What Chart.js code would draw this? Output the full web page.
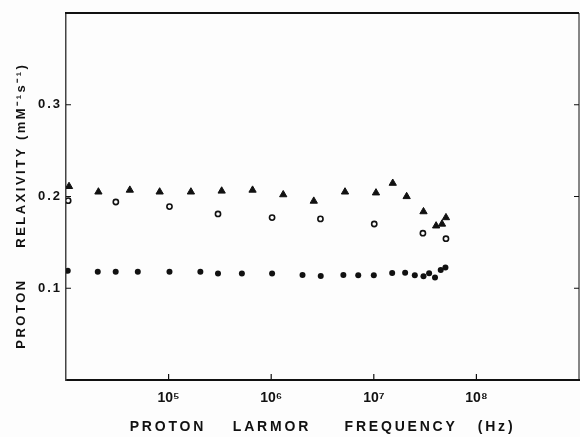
<!DOCTYPE html>
<html>
<head>
<meta charset="utf-8">
<script src="https://cdn.jsdelivr.net/npm/chart.js@4.4.1/dist/chart.umd.min.js"></script>
<style>
  html, body { margin: 0; padding: 0; background: #fdfdfd; }
  #wrap { width: 580px; height: 437px; }
</style>
</head>
<body>
<div id="wrap"><canvas id="relax"></canvas></div>
<script>
// frequencies in Hz, relaxivity in mM^-1 s^-1
var triFreq = [1.07e4, 2.07e4, 4.19e4, 8.18e4, 1.65e5, 3.29e5, 6.58e5, 1.31e6, 2.60e6, 5.24e6, 1.05e7, 1.53e7, 2.09e7, 3.05e7, 4.05e7, 4.62e7, 5.05e7];
var triRelax = [0.211, 0.205, 0.207, 0.205, 0.205, 0.206, 0.207, 0.202, 0.195, 0.205, 0.204, 0.2145, 0.200, 0.1835, 0.168, 0.170, 0.177];

var openFreq = [1.05e4, 3.06e4, 1.02e5, 3.03e5, 1.02e6, 3.02e6, 1.01e7, 3.01e7, 5.05e7];
var openRelax = [0.1955, 0.194, 0.189, 0.181, 0.177, 0.1756, 0.170, 0.160, 0.154];

var dotFreq = [1.04e4, 2.04e4, 3.05e4, 5.01e4, 1.02e5, 2.04e5, 3.03e5, 5.18e5, 1.02e6, 2.02e6, 3.04e6, 5.05e6, 7.05e6, 1.0e7, 1.51e7, 2.02e7, 2.51e7, 3.05e7, 3.46e7, 3.95e7, 4.49e7, 4.99e7];
var dotRelax = [0.119, 0.118, 0.118, 0.118, 0.118, 0.118, 0.116, 0.116, 0.116, 0.1145, 0.1134, 0.1145, 0.1142, 0.1142, 0.1167, 0.117, 0.1142, 0.1131, 0.1164, 0.1116, 0.120, 0.1225];

var xTicks = [1e5, 1e6, 1e7, 1e8];
var xTickLabels = ["10⁵", "10⁶", "10⁷", "10⁸"];
var yTicks = [0.1, 0.2, 0.3];

function pairs(xs, ys) {
    return xs.map(function (v, i) { return { x: v, y: ys[i] }; });
}

var font = "'Liberation Sans', Arial, sans-serif";
var ink = "#111";

// typewriter-like letter spacing, set per scale for labels and title
var letterGaps = {
    x: { labels: "0px", title: "2.8px" },
    y: { labels: "2px", title: "2.5px" }
};
var spacing = {
    id: "spacing",
    afterUpdate: function (chart) {
        Object.keys(letterGaps).forEach(function (id) {
            var s = chart.scales[id];
            if (s._spaced) return;
            var gap = letterGaps[id];
            var drawTitle = s.drawTitle.bind(s);
            var drawLabels = s.drawLabels.bind(s);
            s.drawTitle = function () {
                this.ctx.letterSpacing = gap.title;
                drawTitle();
                this.ctx.letterSpacing = "0px";
            };
            s.drawLabels = function (area) {
                this.ctx.letterSpacing = gap.labels;
                drawLabels(area);
                this.ctx.letterSpacing = "0px";
            };
            s._spaced = true;
        });
    }
};

// top/right frame and inward tick marks
var frame = {
    id: "frame",
    afterDraw: function (chart) {
        var ctx = chart.ctx, a = chart.chartArea;
        var x = chart.scales.x, y = chart.scales.y;
        ctx.save();
        ctx.strokeStyle = ink;
        ctx.lineWidth = 2;
        ctx.beginPath();
        ctx.moveTo(a.left - 1, a.top);
        ctx.lineTo(a.right, a.top);
        ctx.stroke();
        ctx.lineWidth = 1;
        ctx.beginPath();
        ctx.moveTo(a.right, a.top);
        ctx.lineTo(a.right, a.bottom);
        ctx.stroke();
        ctx.lineWidth = 1.2;
        ctx.beginPath();
        xTicks.forEach(function (v) {
            var px = x.getPixelForValue(v);
            ctx.moveTo(px, a.bottom);
            ctx.lineTo(px, a.bottom - 6);
        });
        yTicks.forEach(function (v) {
            var py = y.getPixelForValue(v);
            ctx.moveTo(a.left, py);
            ctx.lineTo(a.left + 5, py);
            ctx.moveTo(a.right, py);
            ctx.lineTo(a.right - 5, py);
        });
        ctx.stroke();
        ctx.restore();
    }
};

var chart = new Chart(document.getElementById("relax"), {
    type: "scatter",
    data: {
        datasets: [{
            label: "triangles",
            data: pairs(triFreq, triRelax),
            pointStyle: "triangle",
            pointRadius: 4.2,
            borderWidth: 1,
            borderColor: ink,
            backgroundColor: ink
        }, {
            label: "open circles",
            data: pairs(openFreq, openRelax),
            pointStyle: "circle",
            pointRadius: 2.6,
            borderWidth: 1.6,
            borderColor: ink,
            backgroundColor: "#fdfdfd"
        }, {
            label: "filled circles",
            data: pairs(dotFreq, dotRelax),
            pointStyle: "circle",
            pointRadius: 3,
            borderWidth: 0,
            backgroundColor: ink
        }]
    },
    options: {
        responsive: true,
        maintainAspectRatio: false,
        animation: false,
        layout: { autoPadding: false, padding: { left: 0, top: 13, right: 1, bottom: 0 } },
        plugins: {
            legend: { display: false },
            tooltip: { enabled: false }
        },
        scales: {
            x: {
                type: "logarithmic",
                min: 1e4,
                max: 1e9,
                afterBuildTicks: function (s) {
                    s.ticks = xTicks.map(function (v) { return { value: v }; });
                },
                afterFit: function (s) { s.height = 57; },
                grid: { drawOnChartArea: false, drawTicks: false },
                border: { color: ink, width: 2 },
                ticks: {
                    color: ink,
                    padding: 10,
                    maxRotation: 0,
                    font: { family: font, size: 14, weight: "bold" },
                    callback: function (v, i) { return xTickLabels[i]; }
                },
                title: {
                    display: true,
                    text: "PROTON    LARMOR     FREQUENCY   (Hz)",
                    color: ink,
                    font: { family: font, size: 14, weight: "bold" },
                    padding: { top: 0, bottom: 1 }
                }
            },
            y: {
                min: 0,
                max: 0.4,
                afterBuildTicks: function (s) {
                    s.ticks = yTicks.map(function (v) { return { value: v }; });
                },
                afterFit: function (s) { s.width = 66; },
                grid: { drawOnChartArea: false, drawTicks: false },
                border: { color: "#444", width: 1.5 },
                ticks: {
                    color: ink,
                    padding: 4,
                    font: { family: font, size: 13, weight: "bold" },
                    callback: function (v) { return v.toFixed(1); }
                },
                title: {
                    display: true,
                    text: "PROTON     RELAXIVITY (mM⁻¹s⁻¹)   ",
                    color: ink,
                    font: { family: font, size: 13, weight: "bold" },
                    padding: { top: 14, bottom: 0 }
                }
            }
        }
    },
    plugins: [spacing, frame]
});
</script>
</body>
</html>
